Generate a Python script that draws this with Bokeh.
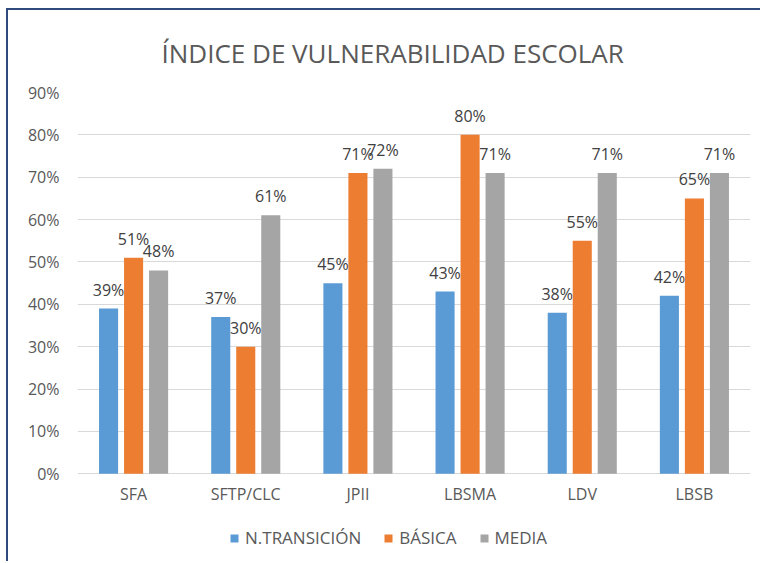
from bokeh.plotting import figure
from bokeh.models import (ColumnDataSource, FixedTicker, NumeralTickFormatter, Legend,
                          LegendItem, Range1d, FactorRange)
from bokeh.transform import dodge
from bokeh.core.properties import value
from bokeh.embed import file_html
from bokeh.resources import INLINE

# ---- data ----
categories = ["SFA", "SFTP/CLC", "JPII", "LBSMA", "LDV", "LBSB"]
transicion = [39, 37, 45, 43, 38, 42]
basica = [51, 30, 71, 80, 55, 65]
media = [48, 61, 72, 71, 71, 71]
series_names = ["N.TRANSICIÓN", "BÁSICA", "MEDIA"]
y_ticks = [0, 10, 20, 30, 40, 50, 60, 70, 80, 90]
title_text = "ÍNDICE DE VULNERABILIDAD ESCOLAR"

colors = ["#5B9BD5", "#ED7D31", "#A5A5A5"]
FONT = "Open Sans"

series = [transicion, basica, media]
data = dict(cat=categories)
for i, s in enumerate(series):
    data[f"v{i}"] = [v / 100 for v in s]
    data[f"l{i}"] = [f"{v}%" for v in s]
source = ColumnDataSource(data)

# frame extends below 0 so that the category labels and legend sit inside it
p = figure(x_range=FactorRange(*categories), y_range=Range1d(-0.2, 0.9),
           width=754, height=553, output_backend="svg", toolbar_location=None,
           min_border_left=69, min_border_right=12, min_border_top=80,
           min_border_bottom=5)
p.styles = {"margin-left": "6px", "margin-top": "8px",
            "border-top": "2px solid #2F4B7C", "border-left": "2px solid #2F4B7C"}

offsets = [-0.223, 0.0, 0.223]
renderers = []
for i in range(3):
    r = p.vbar(x=dodge("cat", offsets[i], range=p.x_range), top=f"v{i}", width=0.17,
               source=source, fill_color=colors[i], line_color=None)
    renderers.append(r)
    p.text(x=dodge("cat", offsets[i], range=p.x_range), y=f"v{i}", text=f"l{i}",
           source=source, y_offset=-19, text_align="center", text_baseline="middle",
           text_font=value(FONT), text_font_size="16px", text_color="#404040")

# category labels under the baseline
p.text(x="cat", y=0, text="cat", source=source, y_offset=20, text_align="center",
       text_baseline="middle", text_font=value(FONT), text_font_size="16px",
       text_color="#595959")

legend = Legend(items=[LegendItem(label=series_names[i], renderers=[renderers[i]]) for i in range(3)],
                orientation="horizontal", location=(152, 9), glyph_width=10, glyph_height=10,
                label_text_font=FONT, label_text_font_size="17px", label_text_color="#595959",
                spacing=22, label_standoff=6, border_line_color=None,
                background_fill_alpha=0, padding=0, margin=0)
p.add_layout(legend, "center")

p.title.text = title_text
p.title.align = "left"
p.title.text_font = FONT
p.title.text_font_size = "26px"
p.title.text_font_style = "normal"
p.title.text_color = "#595959"
p.title.offset = 84
p.title.standoff = 44

p.yaxis.ticker = FixedTicker(ticks=[t / 100 for t in y_ticks])
p.yaxis.formatter = NumeralTickFormatter(format="0%")
p.yaxis.axis_line_color = None
p.yaxis.major_tick_line_color = None
p.yaxis.minor_tick_line_color = None
p.yaxis.major_tick_out = 0
p.yaxis.major_tick_in = 0
p.yaxis.major_label_standoff = 18
p.yaxis.major_label_text_font = FONT
p.yaxis.major_label_text_font_size = "16px"
p.yaxis.major_label_text_color = "#595959"
p.xaxis.visible = False

p.xgrid.grid_line_color = None
p.ygrid.grid_line_color = "#D9D9D9"
p.outline_line_color = None
p.background_fill_color = "white"
p.border_fill_color = "white"

open("out.html", "w").write(file_html(p, INLINE))
